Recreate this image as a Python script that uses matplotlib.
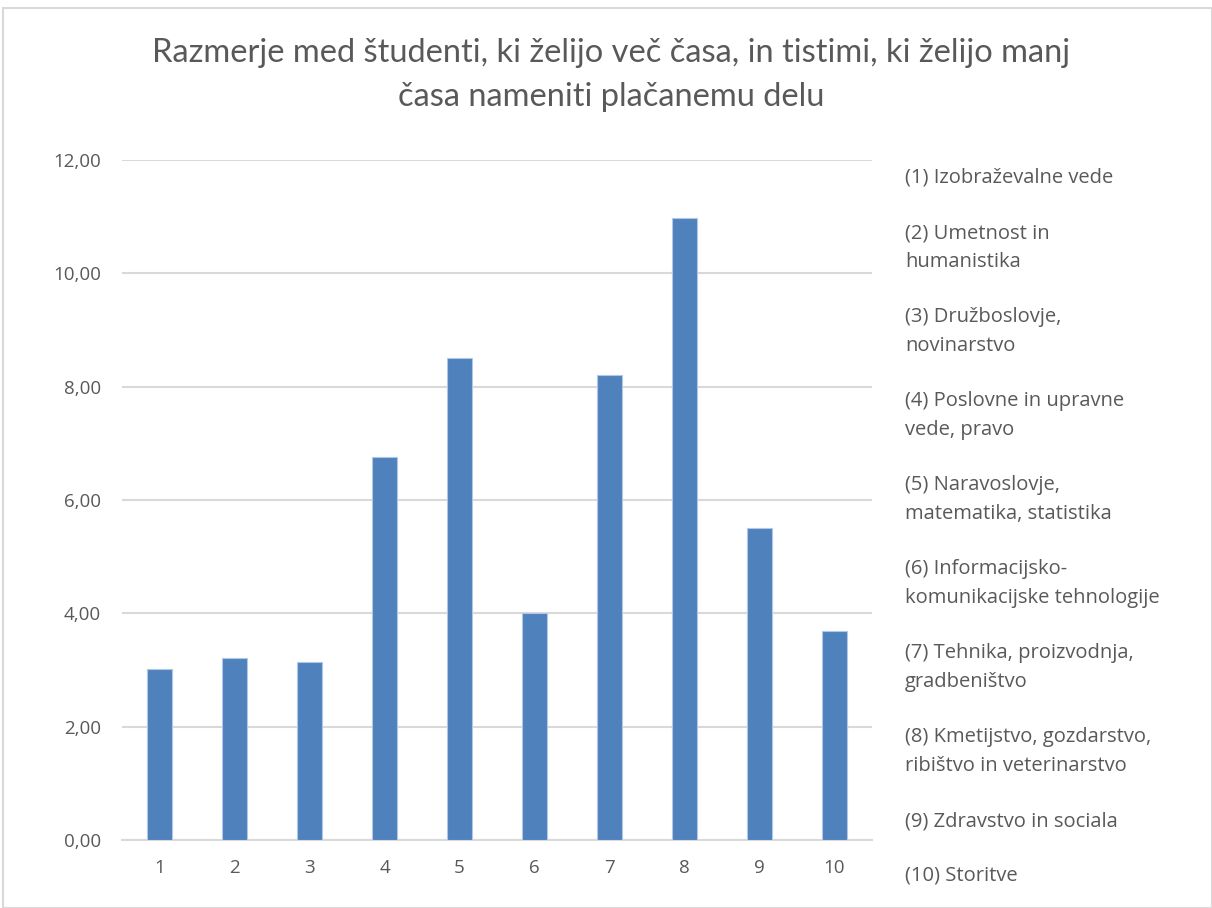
import matplotlib.pyplot as plt
from matplotlib.patches import Rectangle

categories = ['1', '2', '3', '4', '5', '6', '7', '8', '9', '10']
values = [3.02, 3.22, 3.15, 6.76, 8.50, 4.01, 8.21, 10.97, 5.50, 3.69]
legend_labels = [
    '(1) Izobraževalne vede',
    '(2) Umetnost in\nhumanistika',
    '(3) Družboslovje,\nnovinarstvo',
    '(4) Poslovne in upravne\nvede, pravo',
    '(5) Naravoslovje,\nmatematika, statistika',
    '(6) Informacijsko-\nkomunikacijske tehnologije',
    '(7) Tehnika, proizvodnja,\ngradbeništvo',
    '(8) Kmetijstvo, gozdarstvo,\nribištvo in veterinarstvo',
    '(9) Zdravstvo in sociala',
    '(10) Storitve',
]
title = ('Razmerje med študenti, ki želijo več časa, in tistimi, ki želijo manj\n'
         'časa nameniti plačanemu delu')

plt.rcParams['font.family'] = ['Open Sans', 'DejaVu Sans']
grey = '#595959'

W, H = 1212, 908
fig = plt.figure(figsize=(W / 100, H / 100), dpi=100)
fig.patches.append(Rectangle((3 / W, 0), 1 - 3 / W, 1 - 8 / H, transform=fig.transFigure,
                             fill=False, edgecolor='#d9d9d9', linewidth=1.5))

ax = fig.add_axes([122 / W, 1 - 840 / H, 750 / W, 680 / H])
x = range(len(categories))
ax.bar(x, values, width=0.33, color='#4f81bd', edgecolor='#b0c8e6', linewidth=0.8, zorder=3)
ax.set_xlim(-0.5, len(categories) - 0.5)
ax.set_ylim(0, 12)
ax.set_yticks(range(0, 13, 2))
ax.set_yticklabels([f'{v:.2f}'.replace('.', ',') for v in range(0, 13, 2)])
ax.set_xticks(list(x))
ax.set_xticklabels(categories)
ax.yaxis.grid(True, color='#d9d9d9', linewidth=1.5, zorder=0)
for s in ['top', 'right', 'left']:
    ax.spines[s].set_visible(False)
ax.spines['bottom'].set_color('#d9d9d9')
ax.spines['bottom'].set_linewidth(1.5)
ax.tick_params(axis='both', length=0, colors=grey, labelsize=13.5)
ax.tick_params(axis='y', pad=15)
ax.tick_params(axis='x', pad=14)

fig.text(611 / W, 1 - 75 / H, title, ha='center', va='center', fontsize=23.5,
         color=grey, linespacing=1.6, family=['Lato', 'DejaVu Sans'])

# legend as plain text column on the right
y = 178
for lab in legend_labels:
    lines = lab.split('\n')
    for ln in lines:
        fig.text(905 / W, 1 - y / H, ln, ha='left', va='center', fontsize=14.5, color=grey)
        y += 29
    y += 26

fig.savefig('out.png', dpi=100)
